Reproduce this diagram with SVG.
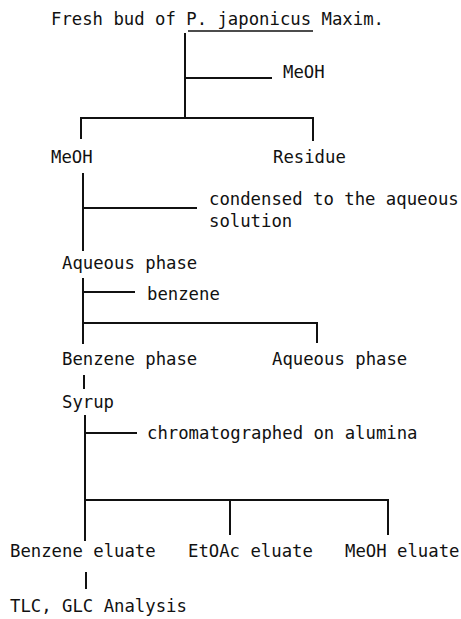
<svg xmlns="http://www.w3.org/2000/svg" width="461" height="619" viewBox="0 0 461 619">
<style>
text{font-family:"DejaVu Sans Mono","Liberation Mono",monospace;font-size:17.3px;fill:#111}
.c line{stroke:#111;stroke-width:2;stroke-linecap:square}
</style>
<rect width="461" height="619" fill="#fff"/>
<g id="n-fresh"><text x="51" y="25">Fresh bud of P. japonicus Maxim.</text><line x1="188" y1="31" x2="313" y2="31" stroke="#111" stroke-width="1.6"/></g>
<g id="n-meoh-reagent"><text x="283" y="78">MeOH</text></g>
<g id="n-meoh"><text x="51" y="163">MeOH</text></g>
<g id="n-residue"><text x="273" y="163">Residue</text></g>
<g id="n-condensed"><text x="209" y="205">condensed to the aqueous</text><text x="209" y="227">solution</text></g>
<g id="n-aqueous1"><text x="62" y="269">Aqueous phase</text></g>
<g id="n-benzene-reagent"><text x="147" y="300">benzene</text></g>
<g id="n-benzene-phase"><text x="62" y="365">Benzene phase</text></g>
<g id="n-aqueous2"><text x="272" y="365">Aqueous phase</text></g>
<g id="n-syrup"><text x="62" y="408">Syrup</text></g>
<g id="n-chrom"><text x="147" y="439">chromatographed on alumina</text></g>
<g id="n-benz-eluate"><text x="10" y="557">Benzene eluate</text></g>
<g id="n-etoac-eluate"><text x="188" y="557">EtOAc eluate</text></g>
<g id="n-meoh-eluate"><text x="345" y="557">MeOH eluate</text></g>
<g id="n-tlc"><text x="10" y="612">TLC, GLC Analysis</text></g>
<g id="connectors" class="c">
<line x1="185" y1="34" x2="185" y2="118"/>
<line x1="185" y1="78" x2="271" y2="78"/>
<line x1="81" y1="118" x2="313" y2="118"/>
<line x1="81" y1="118" x2="81" y2="138"/>
<line x1="313" y1="118" x2="313" y2="140"/>
<line x1="83" y1="174" x2="83" y2="250"/>
<line x1="83" y1="208" x2="196" y2="208"/>
<line x1="83" y1="279" x2="83" y2="343"/>
<line x1="83" y1="292" x2="134" y2="292"/>
<line x1="83" y1="323" x2="317" y2="323"/>
<line x1="317" y1="323" x2="317" y2="342"/>
<line x1="84" y1="376" x2="84" y2="388"/>
<line x1="85" y1="416" x2="85" y2="540"/>
<line x1="85" y1="433" x2="136" y2="433"/>
<line x1="85" y1="500" x2="388" y2="500"/>
<line x1="230" y1="500" x2="230" y2="534"/>
<line x1="388" y1="500" x2="388" y2="534"/>
<line x1="86" y1="573" x2="86" y2="588"/>
</g>
</svg>
